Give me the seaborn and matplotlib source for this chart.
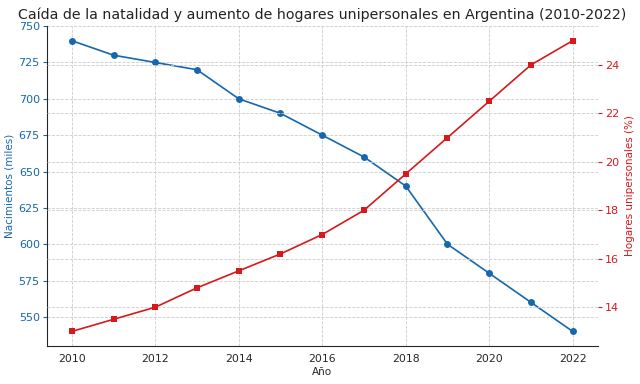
import matplotlib
matplotlib.use('Agg')
import matplotlib.pyplot as plt
import seaborn as sns
import pandas as pd

years = [2010, 2011, 2012, 2013, 2014, 2015, 2016, 2017, 2018, 2019, 2020, 2021, 2022]
nacimientos = [740, 730, 725, 720, 700, 690, 675, 660, 640, 600, 580, 560, 540]
hogares = [13.0, 13.5, 14.0, 14.8, 15.5, 16.2, 17.0, 18.0, 19.5, 21.0, 22.5, 24.0, 25.0]

df = pd.DataFrame({'Año': years, 'Nacimientos': nacimientos, 'Hogares': hogares})

sns.set_style('white')
plt.rcParams['font.family'] = ['DejaVu Sans']

blue = '#1767ad'
red = '#d7191c'

fig, ax1 = plt.subplots(figsize=(6.4, 3.84), dpi=100)
fig.subplots_adjust(left=0.073, right=0.934, top=0.932, bottom=0.099)

sns.lineplot(data=df, x='Año', y='Nacimientos', ax=ax1, color=blue, marker='o',
             markersize=5, markeredgewidth=0, linewidth=1.2)
ax1.set_ylabel('Nacimientos (miles)', color=blue, fontsize=7.5, labelpad=3)
ax1.set_xlabel('Año', fontsize=7.5, labelpad=2)
ax1.tick_params(axis='y', colors=blue, labelsize=8, length=3, pad=2)
ax1.tick_params(axis='x', labelsize=7.8, length=3, pad=3)
ax1.set_xticks([2010, 2012, 2014, 2016, 2018, 2020, 2022])
ax1.grid(True, linestyle='--', linewidth=0.6, color='#cccccc')
ax1.spines['top'].set_visible(False)
ax1.spines['right'].set_visible(False)

ax2 = ax1.twinx()
sns.lineplot(data=df, x='Año', y='Hogares', ax=ax2, color=red, marker='s',
             markersize=5, markeredgewidth=0, linewidth=1.2)
ax2.set_ylabel('Hogares unipersonales (%)', color=red, fontsize=7.5, labelpad=4)
ax2.tick_params(axis='y', colors=red, labelsize=8, length=3, pad=2)
ax2.grid(True, linestyle='--', linewidth=0.6, color='#cccccc')
for s in ['top', 'right', 'left', 'bottom']:
    ax2.spines[s].set_visible(False)

ax1.set_title('Caída de la natalidad y aumento de hogares unipersonales en Argentina (2010-2022)',
              fontsize=10.2, color='#222222', pad=5)

fig.savefig('out.png', dpi=100)
